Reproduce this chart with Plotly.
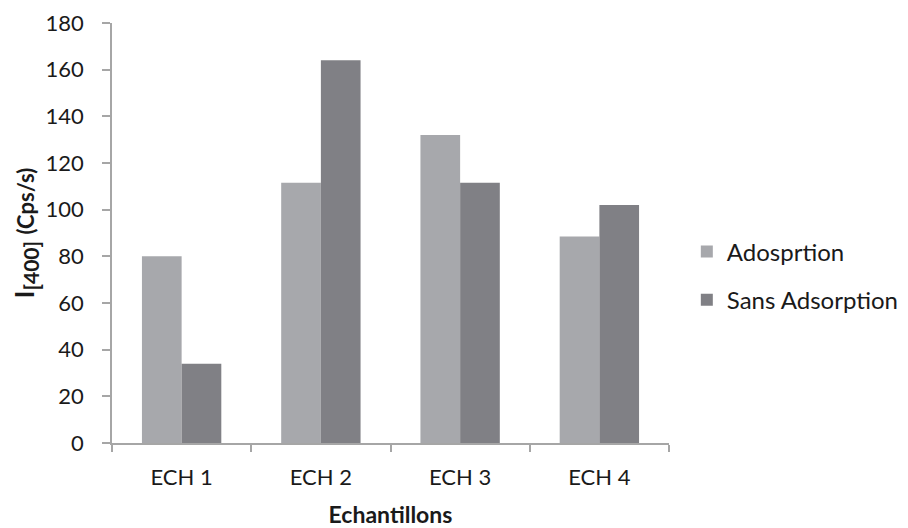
import plotly.graph_objects as go

categories = ["ECH 1", "ECH 2", "ECH 3", "ECH 4"]
adsorption = [80, 111.5, 132, 88.5]
sans_adsorption = [34, 164, 111.5, 102]
series_names = ["Adosprtion", "Sans Adsorption"]
y_ticks = list(range(0, 181, 20))

FONT = "Lato"
axis_col = "#a6a6a6"
txt_col = "#1a1a1a"

fig = go.Figure()
fig.add_trace(go.Bar(x=categories, y=adsorption, name=series_names[0],
                     marker=dict(color="#a7a8ac", line=dict(width=0)),
                     legendgroup="a"))
fig.add_trace(go.Bar(x=categories, y=sans_adsorption, name=series_names[1],
                     marker=dict(color="#808085", line=dict(width=0)),
                     legendgroup="b"))

fig.update_layout(
    width=908, height=528,
    margin=dict(l=104, r=247, t=15, b=93, autoexpand=False),
    paper_bgcolor="white", plot_bgcolor="white",
    barmode="group", bargap=0.43, bargroupgap=0,
    font=dict(family=FONT, size=22, color=txt_col),
    showlegend=True,
    legend=dict(x=1.032, y=0.398, xanchor="left", yanchor="middle",
                font=dict(size=24, color=txt_col),
                tracegroupgap=14, itemwidth=30,
                bgcolor="rgba(0,0,0,0)"),
    xaxis=dict(
        showline=True, linecolor=axis_col, linewidth=1.5,
        ticks="outside", tickson="boundaries", ticklen=7, tickcolor=axis_col, tickwidth=1.5,
        showgrid=False, zeroline=False, automargin=False,
        tickfont=dict(size=22, color=txt_col),
        ticklabelstandoff=14,
        title=dict(text="<b>Echantillons</b>", font=dict(size=23, color=txt_col), standoff=18),
    ),
    yaxis=dict(
        range=[0, 180], tickvals=y_ticks,
        showline=True, linecolor=axis_col, linewidth=1.5,
        ticks="outside", ticklen=8, tickcolor=axis_col, tickwidth=1.5,
        showgrid=False, zeroline=False, automargin=False,
        tickfont=dict(size=22, color=txt_col),
        ticklabelstandoff=14,
        title=dict(text="<b>I<sub><span style=\"font-size:21px;font-weight:bold\">[400]</span></sub> "
                        "<span style=\"font-size:22px;font-weight:bold\">(Cps/s)</span></b>",
                   font=dict(size=26, color=txt_col), standoff=9),
    ),
)

fig.write_html("out.html")
